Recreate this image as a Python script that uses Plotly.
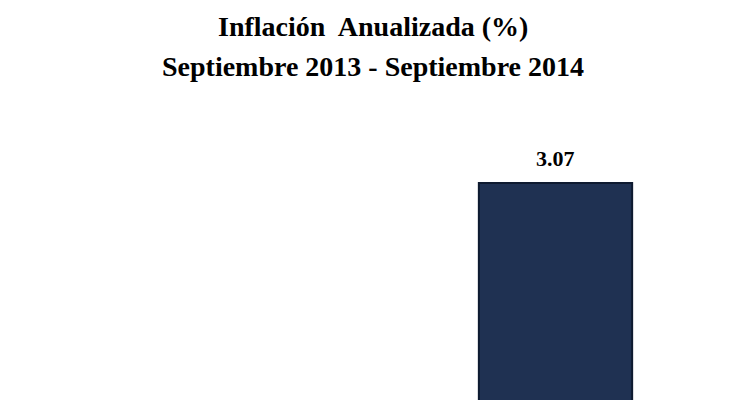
import plotly.graph_objects as go

categories = ["Septiembre 2013", "Septiembre 2014"]
values = [2.83, 3.07]
labels = ["2.83", "3.07"]

fig = go.Figure()
fig.add_trace(go.Bar(x=categories, y=values, width=0.42,
                     marker=dict(color="#1f3152", line=dict(color="#0e1a30", width=2)),
                     hoverinfo="skip"))
for c, v, t in zip(categories, values, labels):
    fig.add_annotation(x=c, y=v, text="<b>" + t + "</b>", showarrow=False,
                       yanchor="bottom", yshift=10,
                       font=dict(family="Liberation Serif", size=22, color="#000"))
fig.add_annotation(text="<b>Inflación  Anualizada (%)</b>", xref="paper", yref="paper",
                   x=0.5, y=1, yshift=112, showarrow=False, yanchor="middle",
                   font=dict(family="Liberation Serif", size=28, color="#000"))
fig.add_annotation(text="<b>Septiembre 2013 - Septiembre 2014</b>", xref="paper", yref="paper",
                   x=0.5, y=1, yshift=72, showarrow=False, yanchor="middle",
                   font=dict(family="Liberation Serif", size=28, color="#000"))
fig.update_layout(
    width=730, height=400, showlegend=False,
    paper_bgcolor="white", plot_bgcolor="white",
    margin=dict(l=0, r=0, t=130, b=0),
    xaxis=dict(visible=False),
    yaxis=dict(visible=False, range=[2.835, 3.117]),
)
fig.write_html("out.html")
